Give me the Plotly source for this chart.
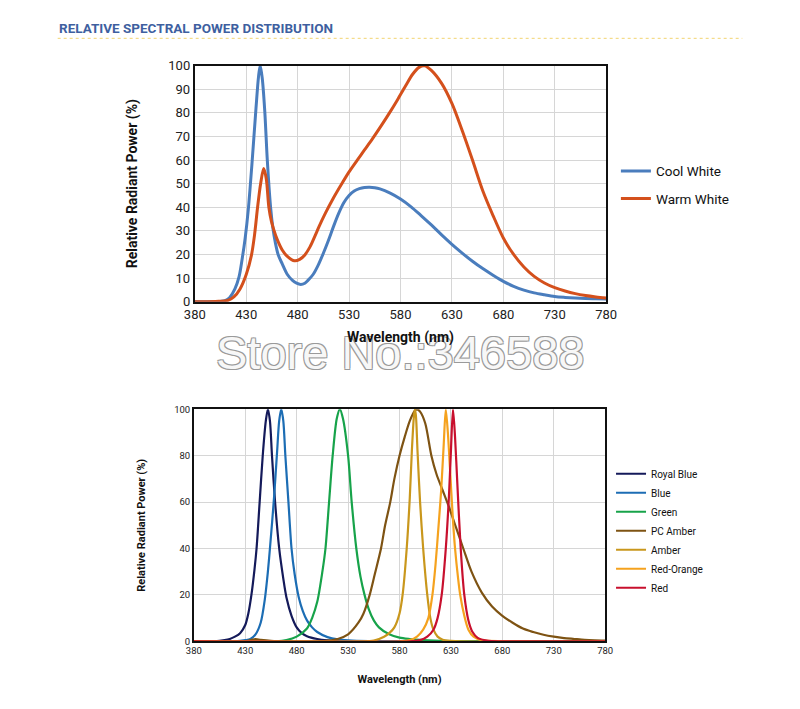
import plotly.graph_objects as go

# ---------------- data: top chart ----------------
cw_wl = [380, 400, 405, 410, 414, 419, 423, 426, 429, 432, 435.5, 439.5, 442, 443.6, 445.5, 448, 450.5, 453.7, 456, 458.5, 461, 465, 470, 475, 479, 483, 487, 490, 495, 500, 505, 510, 515, 520, 525, 530, 535, 540, 545, 550, 555, 560, 570, 580, 590, 600, 610, 620, 630, 640, 650, 660, 670, 680, 690, 700, 710, 720, 730, 740, 750, 760, 770, 780]
cw_val = [0, 0, 0.1, 0.5, 1.8, 5.4, 10.5, 18, 27, 39, 58, 82, 95.5, 100, 95, 81, 60, 40, 31, 24.6, 20, 16, 11.5, 9, 7.8, 7.3, 7.8, 9, 11.5, 15.5, 20.5, 26, 32, 37.5, 42, 45, 46.9, 47.9, 48.4, 48.5, 48.3, 47.8, 46, 43.5, 40.3, 36.5, 32.5, 28.3, 24.3, 20.6, 17.1, 14.0, 11.2, 8.6, 6.5, 4.9, 3.7, 2.9, 2.2, 1.8, 1.5, 1.3, 1.2, 1.1]

ww_wl = [380, 400, 412, 418, 424, 430, 435, 438, 441, 444, 447, 449.5, 452, 454.5, 457, 460, 465, 470, 477, 482, 487, 492, 497, 501, 507, 514, 522, 530, 538, 545, 553, 561, 569, 577, 585, 592, 598, 603.5, 610, 620, 630, 640, 650, 660, 670, 680, 690, 700, 710, 720, 730, 740, 750, 760, 770, 780]
ww_val = [0, 0.1, 0.5, 2, 5.4, 11.5, 19.5, 28, 39.8, 50, 56.4, 52, 40, 34, 30.2, 26.5, 21.9, 19.2, 17.3, 17.9, 19.8, 23.2, 28, 32, 37.5, 43.3, 49.3, 55, 60, 64.3, 69.2, 74.4, 79.8, 85.5, 91.5, 96.5, 99.3, 100, 98, 92.5, 84, 72.5, 60, 47, 36.5, 27, 20, 14.7, 10.7, 7.9, 5.9, 4.5, 3.4, 2.6, 2.0, 1.5]

top_names = ["Cool White", "Warm White"]
top_colors = ["#4a7dbd", "#d4501c"]

# ---------------- data: bottom chart ----------------
rb_wl = [380, 400, 410, 415, 420, 425, 430, 433, 436, 439, 441, 444, 447, 450, 452, 454, 456, 459, 463, 467, 470, 475, 480, 485, 490, 500, 510, 520, 540, 780]
rb_val = [0, 0, 0.5, 1, 2, 3.5, 7, 12, 20, 31, 40, 60, 80, 95, 100, 95, 80, 60, 40, 27, 19, 11, 6, 3.5, 2.2, 1, 0.4, 0.1, 0, 0]

bl_wl = [380, 420, 430, 435, 440, 445, 449, 452, 454, 458, 461, 463, 465, 467, 469, 472, 475, 478, 482, 486, 490, 495, 500, 510, 520, 530, 550, 600, 780]
bl_val = [0, 0, 0.5, 1, 3, 8, 18, 30, 40, 62, 82, 95, 100, 95, 80, 60, 40, 29, 19, 13, 9, 6, 4, 1.8, 0.8, 0.4, 0.1, 0, 0]

gr_wl = [380, 460, 470, 480, 490, 495, 500, 505, 508, 511.5, 515, 519, 522, 525, 530, 533.5, 538, 542, 546, 550, 555, 560, 570, 580, 590, 600, 620, 640, 780]
gr_val = [0, 0, 0.5, 2, 5.5, 10, 17, 30, 40, 60, 80, 96, 100, 96, 80, 60, 40, 28, 20, 14, 9, 6, 3, 1.6, 1, 0.6, 0.2, 0, 0]

pa_wl = [380, 430, 435, 440, 445, 455, 470, 500, 510, 520, 530, 540, 545, 551, 556, 562, 566, 571, 575, 580, 585, 590, 595, 597, 600, 605, 611, 616, 622, 628, 635, 642, 650, 660, 670, 680, 690, 700, 710, 720, 730, 740, 750, 760, 770, 780]
pa_val = [0, 0, 0.5, 0.9, 0.6, 0.2, 0, 0, 0.3, 1, 3, 8, 12, 20, 29, 40, 50, 60, 70, 80, 88, 95, 99.5, 100, 99, 94, 80, 72, 65, 58, 49, 40, 30, 21, 15, 11, 8, 5.5, 4, 2.8, 2, 1.4, 1, 0.6, 0.4, 0.3]

am_wl = [380, 540, 555, 565, 570, 575, 580, 583, 587, 590, 592, 594, 595, 596, 597.5, 600, 603, 607, 610, 613, 617, 622, 630, 640, 780]
am_val = [0, 0, 0.3, 2, 3.5, 6, 12, 20, 40, 62, 82, 97, 100, 97, 82, 60, 40, 20, 10, 5, 2, 0.7, 0.2, 0, 0]

ro_wl = [380, 580, 590, 597, 603, 608, 612, 615, 618, 620.5, 623, 625, 627, 629, 632, 634, 637, 639, 643, 647, 652, 660, 680, 780]
ro_val = [0, 0, 0.5, 2, 5, 10, 20, 33, 50, 65, 85, 100, 90, 75, 52, 40, 27, 20, 11, 5, 2, 0.5, 0, 0]

rd_wl = [380, 590, 600, 607, 613, 617, 621, 625, 628, 630, 632, 634, 636, 639.5, 643, 647, 651, 656, 665, 680, 780]
rd_val = [0, 0, 0.5, 2, 5, 10, 20, 40, 62, 82, 100, 88, 70, 40, 20, 9, 4, 1.5, 0.3, 0, 0]

bottom_names = ["Royal Blue", "Blue", "Green", "PC Amber", "Amber", "Red-Orange", "Red"]
bottom_colors = ["#141a5a", "#1c6db4", "#17a34a", "#7e5313", "#c9971c", "#f5a21e", "#c8102e"]

x_ticks = [380, 430, 480, 530, 580, 630, 680, 730, 780]
y_ticks_top = list(range(0, 101, 10))
y_ticks_bottom = list(range(0, 101, 20))

title_text = "RELATIVE SPECTRAL POWER DISTRIBUTION"
watermark_text = "Store No.:346588"
x_title = "Wavelength (nm)"
y_title = "Relative Radiant Power (%)"

# ---------------- figure ----------------
W, H = 800, 709
fig = go.Figure()

top_series = [(cw_wl, cw_val), (ww_wl, ww_val)]
for i, ((wl, v), name, col) in enumerate(zip(top_series, top_names, top_colors)):
    fig.add_trace(go.Scatter(x=wl, y=v, name=name, mode="lines",
                             line=dict(color=col, width=3, shape="spline", smoothing=0.9),
                             xaxis="x", yaxis="y", legend="legend",
                             legendgroup="t%d" % i, hoverinfo="skip"))

bottom_series = [(rb_wl, rb_val), (bl_wl, bl_val), (gr_wl, gr_val), (pa_wl, pa_val),
                 (am_wl, am_val), (ro_wl, ro_val), (rd_wl, rd_val)]
for i, ((wl, v), name, col) in enumerate(zip(bottom_series, bottom_names, bottom_colors)):
    fig.add_trace(go.Scatter(x=wl, y=v, name=name, mode="lines",
                             line=dict(color=col, width=2.2, shape="spline", smoothing=0.8),
                             xaxis="x2", yaxis="y2", legend="legend2",
                             legendgroup="b%d" % i, hoverinfo="skip"))

def px_x(p):
    return p / W

def px_y(p):
    return 1 - p / H

grid = "#d6d6d6"
fig.update_layout(
    width=W, height=H,
    margin=dict(l=0, r=0, t=0, b=0),
    paper_bgcolor="white", plot_bgcolor="white",
    font=dict(family="Roboto, Arial, sans-serif", color="#111111"),
    xaxis=dict(domain=[px_x(189), px_x(612)], range=[380, 780], tickvals=x_ticks,
               showgrid=True, gridcolor=grid, gridwidth=1, zeroline=False,
               showline=True, linecolor="#111111", linewidth=2, mirror=True,
               ticks="", tickfont=dict(size=13, color="#222222"),
               anchor="y"),
    yaxis=dict(domain=[px_y(301), px_y(60)], range=[0, 100], tickvals=y_ticks_top,
               showgrid=True, gridcolor=grid, gridwidth=1, zeroline=False,
               showline=True, linecolor="#111111", linewidth=2, mirror=True,
               ticks="", tickfont=dict(size=13, color="#222222"),
               title=dict(text="<b>" + y_title + "</b>", font=dict(size=14, color="#111111"), standoff=27),
               anchor="x"),
    xaxis2=dict(domain=[px_x(188), px_x(611)], range=[380, 780], tickvals=x_ticks,
                showgrid=True, gridcolor=grid, gridwidth=1, zeroline=False,
                showline=True, linecolor="#111111", linewidth=1.5, mirror=True,
                ticks="", tickfont=dict(size=9.5, color="#222222"),
                title=dict(text="<b>" + x_title + "</b>", font=dict(size=11, color="#111111"), standoff=20),
                anchor="y2"),
    yaxis2=dict(domain=[px_y(648), px_y(411)], range=[0, 100], tickvals=y_ticks_bottom,
                showgrid=True, gridcolor=grid, gridwidth=1, zeroline=False,
                showline=True, linecolor="#111111", linewidth=1.5, mirror=True,
                ticks="", tickfont=dict(size=9.5, color="#222222"),
                title=dict(text="<b>" + y_title + "</b>", font=dict(size=11, color="#111111"), standoff=26),
                anchor="x2"),
    legend=dict(x=px_x(622), y=px_y(152), xanchor="left", yanchor="top",
                font=dict(size=13.5, color="#111111"), bgcolor="rgba(0,0,0,0)",
                tracegroupgap=7, itemwidth=30),
    legend2=dict(x=px_x(617), y=px_y(462), xanchor="left", yanchor="top",
                 font=dict(size=10, color="#111111"), bgcolor="rgba(0,0,0,0)",
                 tracegroupgap=0, itemwidth=30),
    showlegend=True,
)

# header
fig.add_annotation(x=px_x(47), y=px_y(21), xref="paper", yref="paper", xanchor="left", yanchor="middle",
                   text="<b>" + title_text + "</b>", showarrow=False,
                   font=dict(size=13.5, color="#3e5f9f", family="Roboto, Arial, sans-serif"))
fig.add_shape(type="line", xref="paper", yref="paper", x0=px_x(48), x1=px_x(752), y0=px_y(32), y1=px_y(32),
              line=dict(color="#f2d470", width=1, dash="dot"))

# watermark (outlined text)
fig.add_annotation(x=px_x(400), y=px_y(353), xref="paper", yref="paper", xanchor="center", yanchor="middle",
                   text=watermark_text, showarrow=False,
                   font=dict(size=47, color="#f7f7f7", family="Liberation Sans, Arial, sans-serif",
                             shadow="1px 1px 0 #9a9a9a, -1px -1px 0 #9a9a9a, 1px -1px 0 #9a9a9a, -1px 1px 0 #9a9a9a"))

# top x-axis title, drawn above the watermark as in the reference
fig.add_annotation(x=px_x(400), y=px_y(338), xref="paper", yref="paper", xanchor="center", yanchor="middle",
                   text="<b>" + x_title + "</b>", showarrow=False,
                   font=dict(size=14, color="#111111", family="Roboto, Arial, sans-serif"))

fig.write_html("out.html")
